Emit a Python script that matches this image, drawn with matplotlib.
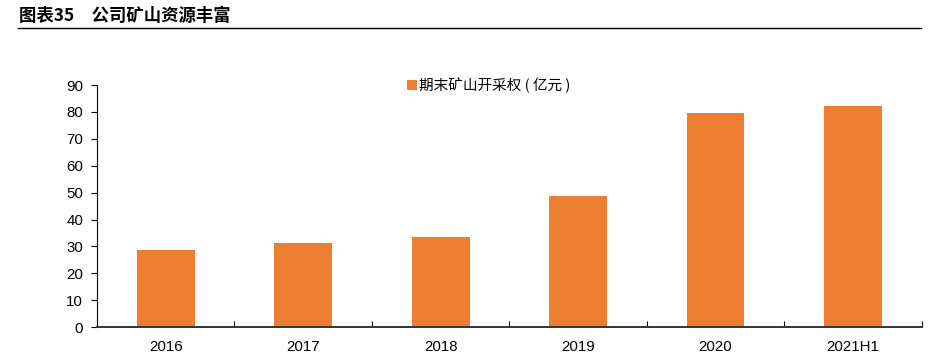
import matplotlib
matplotlib.use("Agg")
import matplotlib.pyplot as plt
import numpy as np

categories = ["2016", "2017", "2018", "2019", "2020", "2021H1"]
values = [28.6, 31.2, 33.5, 48.7, 79.6, 82.2]
yticks = [0, 10, 20, 30, 40, 50, 60, 70, 80, 90]
series_name = "期末矿山开采权 ( 亿元 )"
title = "图表35　公司矿山资源丰富"

plt.rcParams['font.family'] = ['Liberation Sans', 'Noto Sans CJK SC', 'DejaVu Sans']

fig = plt.figure(figsize=(9.33, 3.59), dpi=100)
ax = fig.add_axes([0.104, 0.089, 0.884, 0.674])

x = np.arange(len(categories))
ax.bar(x, values, width=0.42, color="#ED7D31", label=series_name, zorder=2)

ax.set_xlim(-0.5, len(categories) - 0.5)
ax.set_ylim(0, 90)
ax.set_yticks(yticks)
ax.set_yticklabels([str(v) for v in yticks], fontsize=10.8)
ax.set_xticks(x)
ax.set_xticklabels(categories, fontsize=10.8)
ax.set_xticks(np.arange(0.5, len(categories), 1.0), minor=True)
ax.tick_params(axis='x', which='major', length=0, pad=9)
ax.tick_params(axis='x', which='minor', direction='in', length=4, width=0.8, color='black')
ax.tick_params(axis='y', direction='out', length=4, width=0.8, pad=6)

for s in ['top', 'right']:
    ax.spines[s].set_visible(False)
ax.spines['left'].set_color('black')
ax.spines['left'].set_linewidth(0.8)
ax.spines['bottom'].set_color('#333333')
ax.spines['bottom'].set_linewidth(1.4)

leg = ax.legend(loc='upper center', bbox_to_anchor=(0.475, 1.085), frameon=False,
                prop={'family': ['Noto Sans CJK SC'], 'size': 10.5},
                handlelength=0.7, handleheight=0.7, handletextpad=0.15)

fig.text(0.02, 0.955, title, fontsize=12.5, fontweight='bold',
         family=['Noto Sans CJK SC', 'DejaVu Sans'], va='center', ha='left')
fig.add_artist(plt.Line2D([0.019, 0.987], [0.922, 0.922], color='black', linewidth=1.0,
                          transform=fig.transFigure))

fig.savefig("out.png", dpi=100)
